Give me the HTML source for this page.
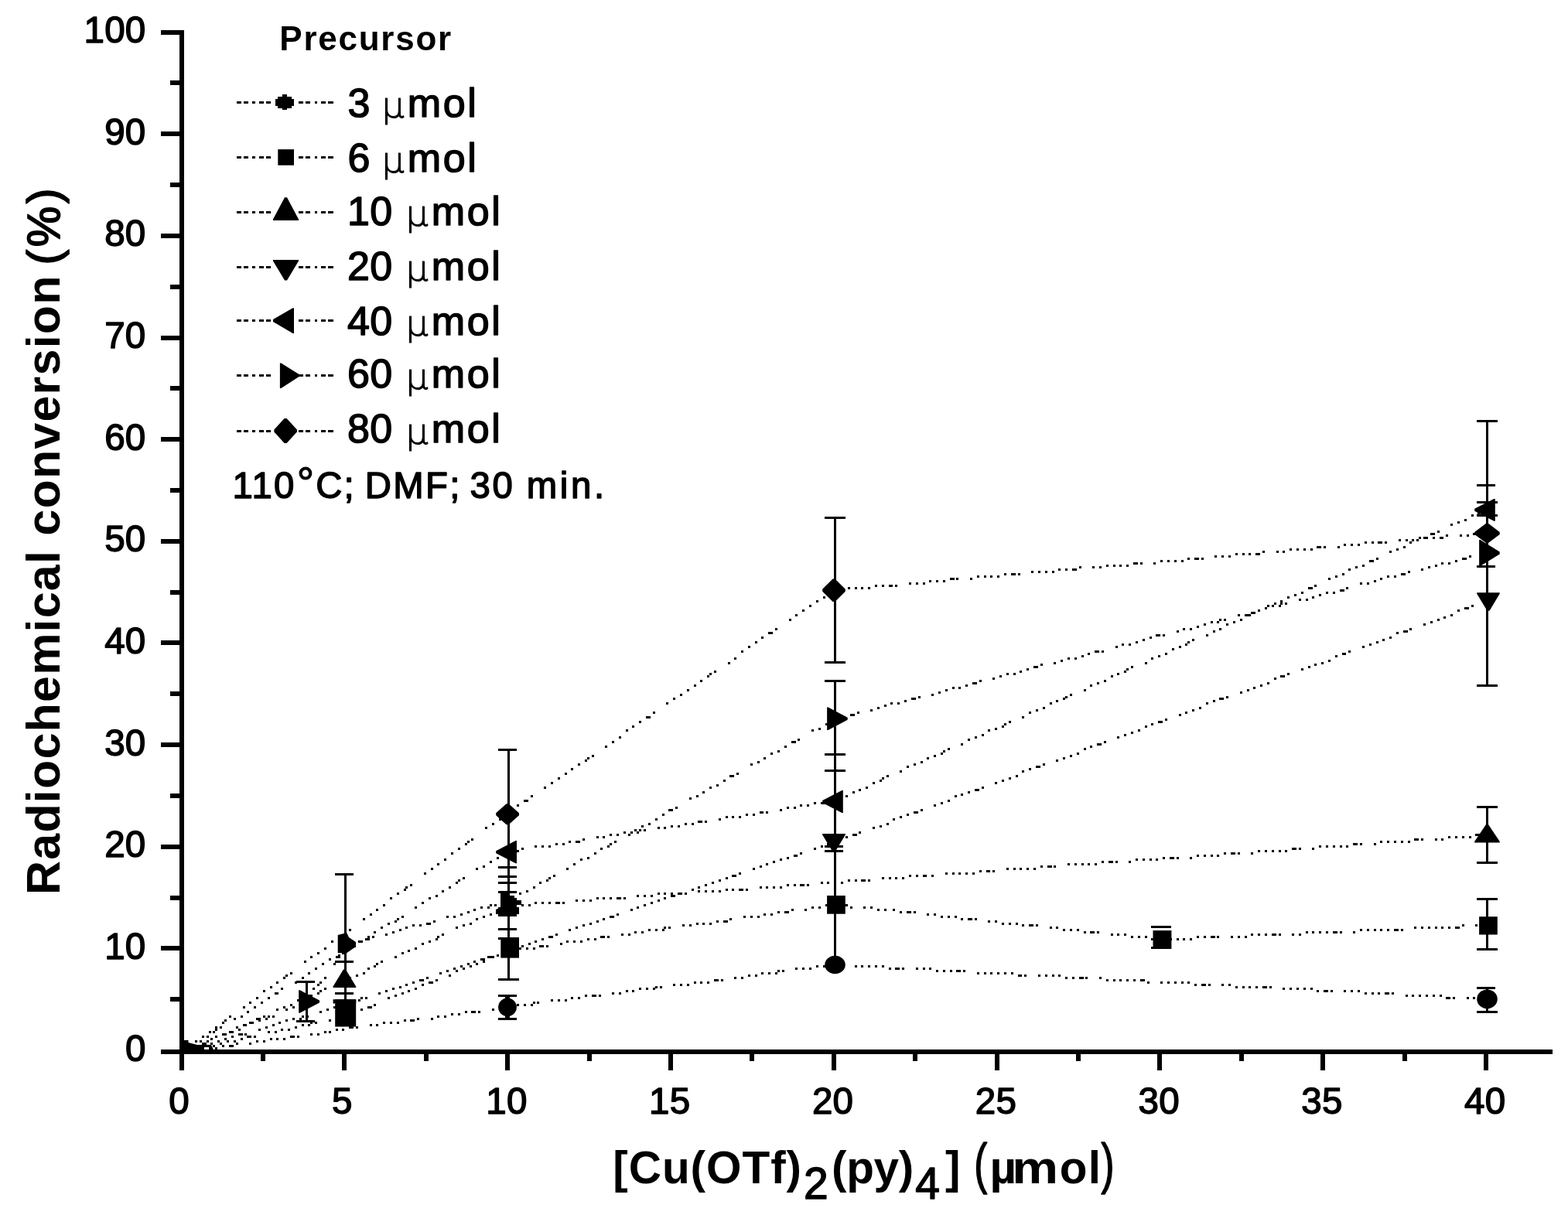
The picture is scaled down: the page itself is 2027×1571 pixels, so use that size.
<!DOCTYPE html>
<html lang="en">
<head>
<meta charset="utf-8">
<title>Radiochemical conversion vs [Cu(OTf)2(py)4]</title>
<style>
html, body { margin: 0; padding: 0; background: #fff; }
body { width: 2027px; height: 1571px; overflow: hidden; }
svg { display: block; }
text { fill: #000; stroke: #000; stroke-linejoin: round; }
.reg { font-family: "Liberation Sans", sans-serif; font-weight: 400; stroke-width: 1.5px; }
.bold { font-family: "Liberation Sans", sans-serif; font-weight: 700; stroke-width: 0; }
.sym { font-family: "DejaVu Sans", "Liberation Sans", sans-serif; font-weight: 200; stroke-width: 1.1px; }
.dl { stroke: #000; stroke-width: 3px; fill: none; }
</style>
</head>
<body>
<svg width="2027" height="1571" viewBox="0 0 2027 1571" role="img" aria-label="Radiochemical conversion versus copper complex amount">
<rect x="0" y="0" width="2027" height="1571" fill="#fff"/>
<g id="axes" fill="#000" shape-rendering="crispEdges">
<rect x="232.00" y="39.00" width="6.00" height="1345.00" />
<rect x="208.00" y="1357.00" width="1799.00" height="6.00" />
<rect x="208.00" y="1223.00" width="27.00" height="6.00" />
<rect x="208.00" y="1092.00" width="27.00" height="6.00" />
<rect x="208.00" y="960.00" width="27.00" height="6.00" />
<rect x="208.00" y="828.00" width="27.00" height="6.00" />
<rect x="208.00" y="697.00" width="27.00" height="6.00" />
<rect x="208.00" y="565.00" width="27.00" height="6.00" />
<rect x="208.00" y="434.00" width="27.00" height="6.00" />
<rect x="208.00" y="302.00" width="27.00" height="6.00" />
<rect x="208.00" y="170.00" width="27.00" height="6.00" />
<rect x="208.00" y="39.00" width="27.00" height="6.00" />
<rect x="220.00" y="1289.00" width="15.00" height="6.00" />
<rect x="220.00" y="1158.00" width="15.00" height="6.00" />
<rect x="220.00" y="1026.00" width="15.00" height="6.00" />
<rect x="220.00" y="894.00" width="15.00" height="6.00" />
<rect x="220.00" y="763.00" width="15.00" height="6.00" />
<rect x="220.00" y="631.00" width="15.00" height="6.00" />
<rect x="220.00" y="499.00" width="15.00" height="6.00" />
<rect x="220.00" y="368.00" width="15.00" height="6.00" />
<rect x="220.00" y="236.00" width="15.00" height="6.00" />
<rect x="220.00" y="104.00" width="15.00" height="6.00" />
<rect x="442.00" y="1360.00" width="6.00" height="24.00" />
<rect x="653.00" y="1360.00" width="6.00" height="24.00" />
<rect x="864.00" y="1360.00" width="6.00" height="24.00" />
<rect x="1075.00" y="1360.00" width="6.00" height="24.00" />
<rect x="1286.00" y="1360.00" width="6.00" height="24.00" />
<rect x="1496.00" y="1360.00" width="6.00" height="24.00" />
<rect x="1707.00" y="1360.00" width="6.00" height="24.00" />
<rect x="1918.00" y="1360.00" width="6.00" height="24.00" />
<rect x="337.00" y="1360.00" width="6.00" height="12.00" />
<rect x="548.00" y="1360.00" width="6.00" height="12.00" />
<rect x="759.00" y="1360.00" width="6.00" height="12.00" />
<rect x="969.00" y="1360.00" width="6.00" height="12.00" />
<rect x="1180.00" y="1360.00" width="6.00" height="12.00" />
<rect x="1391.00" y="1360.00" width="6.00" height="12.00" />
<rect x="1602.00" y="1360.00" width="6.00" height="12.00" />
<rect x="1813.00" y="1360.00" width="6.00" height="12.00" />
</g>
<g id="ticklabels" font-size="47.5" class="reg" letter-spacing="0.3">
<text x="188.6" y="1371.5" text-anchor="end">0</text>
<text x="188.6" y="1239.9" text-anchor="end">10</text>
<text x="188.6" y="1108.2" text-anchor="end">20</text>
<text x="188.6" y="976.6" text-anchor="end">30</text>
<text x="188.6" y="844.9" text-anchor="end">40</text>
<text x="188.6" y="713.3" text-anchor="end">50</text>
<text x="188.6" y="581.7" text-anchor="end">60</text>
<text x="188.6" y="450.0" text-anchor="end">70</text>
<text x="188.6" y="318.4" text-anchor="end">80</text>
<text x="188.6" y="186.7" text-anchor="end">90</text>
<text x="188.6" y="55.1" text-anchor="end">100</text>
<text x="231.7" y="1440.2" text-anchor="middle">0</text>
<text x="442.4" y="1440.2" text-anchor="middle">5</text>
<text x="655.0" y="1440.2" text-anchor="middle">10</text>
<text x="865.8" y="1440.2" text-anchor="middle">15</text>
<text x="1076.6" y="1440.2" text-anchor="middle">20</text>
<text x="1287.5" y="1440.2" text-anchor="middle">25</text>
<text x="1498.2" y="1440.2" text-anchor="middle">30</text>
<text x="1709.0" y="1440.2" text-anchor="middle">35</text>
<text x="1919.8" y="1440.2" text-anchor="middle">40</text>
</g>
<text id="ytitle" class="bold" font-size="61" letter-spacing="1.2" transform="translate(76.5,1157) rotate(-90)">Radiochemical conversion <tspan class="reg" style="stroke-width:1.8px" font-size="59" letter-spacing="3.6" x="814.5">(%)</tspan></text>
<text id="xtitle" class="bold" font-size="58.5" y="1529.6"><tspan x="792.3" letter-spacing="0.95">[Cu(OTf)</tspan><tspan class="reg" x="1039" y="1550" font-size="57">2</tspan><tspan x="1075" y="1529.6" letter-spacing="-0.3">(py)</tspan><tspan class="reg" x="1183.3" y="1550" font-size="57">4</tspan><tspan x="1222" y="1529.6">] </tspan><tspan class="reg" style="stroke-width:1.7px" font-size="73" x="1259.2" y="1528.5" textLength="17" lengthAdjust="spacingAndGlyphs">(</tspan><tspan x="1279.5" y="1529.6" font-size="60">µ</tspan><tspan x="1308.2" y="1529.6" textLength="59.8" lengthAdjust="spacingAndGlyphs">m</tspan><tspan x="1369.8" y="1529.6" letter-spacing="1.2">ol</tspan><tspan class="reg" style="stroke-width:1.7px" font-size="73" x="1423.5" y="1528.5" textLength="17" lengthAdjust="spacingAndGlyphs">)</tspan></text>
<text id="legtitle" class="bold" font-size="44" letter-spacing="1.75" x="361.3" y="65.3">Precursor</text>
<g id="legend" fill="#000">
<rect x="305.5" y="131" width="6.1" height="3" shape-rendering="crispEdges"/>
<rect x="314.5" y="131" width="6.1" height="3" shape-rendering="crispEdges"/>
<rect x="326.2" y="131" width="3.6" height="3" shape-rendering="crispEdges"/>
<rect x="335.4" y="131" width="5.9" height="3" shape-rendering="crispEdges"/>
<rect x="344.3" y="131" width="5.9" height="3" shape-rendering="crispEdges"/>
<rect x="386.0" y="131" width="5.9" height="3" shape-rendering="crispEdges"/>
<rect x="394.8" y="131" width="5.9" height="3" shape-rendering="crispEdges"/>
<rect x="406.5" y="131" width="3.0" height="3" shape-rendering="crispEdges"/>
<rect x="415.3" y="131" width="5.9" height="3" shape-rendering="crispEdges"/>
<rect x="424.2" y="131" width="6.6" height="3" shape-rendering="crispEdges"/>
<rect x="365.00" y="122.00" width="6.00" height="3.00" />
<rect x="359.00" y="125.00" width="18.00" height="3.00" />
<rect x="356.00" y="128.00" width="24.00" height="3.00" />
<rect x="356.00" y="131.00" width="24.00" height="3.00" />
<rect x="356.00" y="134.00" width="24.00" height="3.00" />
<rect x="359.00" y="137.00" width="18.00" height="3.00" />
<rect x="365.00" y="140.00" width="6.00" height="2.00" />
<text class="reg" font-size="52" y="150.6"><tspan x="449.5" letter-spacing="0.4">3 </tspan><tspan class="sym" font-size="46" x="493.4" dy="1.8">µ</tspan><tspan x="526.8" dy="-1.8" letter-spacing="2.55">mol</tspan></text>
<rect x="305.5" y="202" width="6.1" height="3" shape-rendering="crispEdges"/>
<rect x="314.5" y="202" width="6.1" height="3" shape-rendering="crispEdges"/>
<rect x="326.2" y="202" width="3.6" height="3" shape-rendering="crispEdges"/>
<rect x="335.4" y="202" width="5.9" height="3" shape-rendering="crispEdges"/>
<rect x="344.3" y="202" width="5.9" height="3" shape-rendering="crispEdges"/>
<rect x="386.0" y="202" width="5.9" height="3" shape-rendering="crispEdges"/>
<rect x="394.8" y="202" width="5.9" height="3" shape-rendering="crispEdges"/>
<rect x="406.5" y="202" width="3.0" height="3" shape-rendering="crispEdges"/>
<rect x="415.3" y="202" width="5.9" height="3" shape-rendering="crispEdges"/>
<rect x="424.2" y="202" width="6.6" height="3" shape-rendering="crispEdges"/>
<rect x="359.30" y="193.10" width="20.70" height="20.60" />
<text class="reg" font-size="52" y="221.6"><tspan x="449.5" letter-spacing="0.4">6 </tspan><tspan class="sym" font-size="46" x="493.4" dy="1.8">µ</tspan><tspan x="526.8" dy="-1.8" letter-spacing="2.55">mol</tspan></text>
<rect x="305.5" y="273" width="6.1" height="3" shape-rendering="crispEdges"/>
<rect x="314.5" y="273" width="6.1" height="3" shape-rendering="crispEdges"/>
<rect x="326.2" y="273" width="3.6" height="3" shape-rendering="crispEdges"/>
<rect x="335.4" y="273" width="5.9" height="3" shape-rendering="crispEdges"/>
<rect x="344.3" y="273" width="5.9" height="3" shape-rendering="crispEdges"/>
<rect x="386.0" y="273" width="5.9" height="3" shape-rendering="crispEdges"/>
<rect x="394.8" y="273" width="5.9" height="3" shape-rendering="crispEdges"/>
<rect x="406.5" y="273" width="3.0" height="3" shape-rendering="crispEdges"/>
<rect x="415.3" y="273" width="5.9" height="3" shape-rendering="crispEdges"/>
<rect x="424.2" y="273" width="6.6" height="3" shape-rendering="crispEdges"/>
<polygon points="353.0,284.9 386.0,284.9 386.0,283.4 371.0,255.3 368.0,255.3 353.0,283.4" />
<text class="reg" font-size="52" y="290.5"><tspan x="449.0" letter-spacing="0.4">10 </tspan><tspan class="sym" font-size="46" x="524.4" dy="1.8">µ</tspan><tspan x="557.8" dy="-1.8" letter-spacing="2.55">mol</tspan></text>
<rect x="305.5" y="344" width="6.1" height="3" shape-rendering="crispEdges"/>
<rect x="314.5" y="344" width="6.1" height="3" shape-rendering="crispEdges"/>
<rect x="326.2" y="344" width="3.6" height="3" shape-rendering="crispEdges"/>
<rect x="335.4" y="344" width="5.9" height="3" shape-rendering="crispEdges"/>
<rect x="344.3" y="344" width="5.9" height="3" shape-rendering="crispEdges"/>
<rect x="386.0" y="344" width="5.9" height="3" shape-rendering="crispEdges"/>
<rect x="394.8" y="344" width="5.9" height="3" shape-rendering="crispEdges"/>
<rect x="406.5" y="344" width="3.0" height="3" shape-rendering="crispEdges"/>
<rect x="415.3" y="344" width="5.9" height="3" shape-rendering="crispEdges"/>
<rect x="424.2" y="344" width="6.6" height="3" shape-rendering="crispEdges"/>
<polygon points="353.0,336.0 386.0,336.0 386.0,337.5 371.0,362.6 368.0,362.6 353.0,337.5" />
<text class="reg" font-size="52" y="361.5"><tspan x="449.0" letter-spacing="0.4">20 </tspan><tspan class="sym" font-size="46" x="524.4" dy="1.8">µ</tspan><tspan x="557.8" dy="-1.8" letter-spacing="2.55">mol</tspan></text>
<rect x="305.5" y="413" width="6.1" height="3" shape-rendering="crispEdges"/>
<rect x="314.5" y="413" width="6.1" height="3" shape-rendering="crispEdges"/>
<rect x="326.2" y="413" width="3.6" height="3" shape-rendering="crispEdges"/>
<rect x="335.4" y="413" width="5.9" height="3" shape-rendering="crispEdges"/>
<rect x="344.3" y="413" width="5.9" height="3" shape-rendering="crispEdges"/>
<rect x="386.0" y="413" width="5.9" height="3" shape-rendering="crispEdges"/>
<rect x="394.8" y="413" width="5.9" height="3" shape-rendering="crispEdges"/>
<rect x="406.5" y="413" width="3.0" height="3" shape-rendering="crispEdges"/>
<rect x="415.3" y="413" width="5.9" height="3" shape-rendering="crispEdges"/>
<rect x="424.2" y="413" width="6.6" height="3" shape-rendering="crispEdges"/>
<polygon points="380.0,398.3 380.0,430.9 378.5,430.9 353.0,416.1 353.0,413.1 378.5,398.3" />
<text class="reg" font-size="52" y="432.6"><tspan x="449.0" letter-spacing="0.4">40 </tspan><tspan class="sym" font-size="46" x="524.4" dy="1.8">µ</tspan><tspan x="557.8" dy="-1.8" letter-spacing="2.55">mol</tspan></text>
<rect x="305.5" y="484" width="6.1" height="3" shape-rendering="crispEdges"/>
<rect x="314.5" y="484" width="6.1" height="3" shape-rendering="crispEdges"/>
<rect x="326.2" y="484" width="3.6" height="3" shape-rendering="crispEdges"/>
<rect x="335.4" y="484" width="5.9" height="3" shape-rendering="crispEdges"/>
<rect x="344.3" y="484" width="5.9" height="3" shape-rendering="crispEdges"/>
<rect x="386.0" y="484" width="5.9" height="3" shape-rendering="crispEdges"/>
<rect x="394.8" y="484" width="5.9" height="3" shape-rendering="crispEdges"/>
<rect x="406.5" y="484" width="3.0" height="3" shape-rendering="crispEdges"/>
<rect x="415.3" y="484" width="5.9" height="3" shape-rendering="crispEdges"/>
<rect x="424.2" y="484" width="6.6" height="3" shape-rendering="crispEdges"/>
<polygon points="361.9,469.4 361.9,501.9 363.4,501.9 386.6,487.1 386.6,484.1 363.4,469.4" />
<text class="reg" font-size="52" y="501.2"><tspan x="449.0" letter-spacing="0.4">60 </tspan><tspan class="sym" font-size="46" x="524.4" dy="1.8">µ</tspan><tspan x="557.8" dy="-1.8" letter-spacing="2.55">mol</tspan></text>
<rect x="305.5" y="556" width="6.1" height="3" shape-rendering="crispEdges"/>
<rect x="314.5" y="556" width="6.1" height="3" shape-rendering="crispEdges"/>
<rect x="326.2" y="556" width="3.6" height="3" shape-rendering="crispEdges"/>
<rect x="335.4" y="556" width="5.9" height="3" shape-rendering="crispEdges"/>
<rect x="344.3" y="556" width="5.9" height="3" shape-rendering="crispEdges"/>
<rect x="386.0" y="556" width="5.9" height="3" shape-rendering="crispEdges"/>
<rect x="394.8" y="556" width="5.9" height="3" shape-rendering="crispEdges"/>
<rect x="406.5" y="556" width="3.0" height="3" shape-rendering="crispEdges"/>
<rect x="415.3" y="556" width="5.9" height="3" shape-rendering="crispEdges"/>
<rect x="424.2" y="556" width="6.6" height="3" shape-rendering="crispEdges"/>
<polygon points="367.6,541.0 370.6,541.0 383.9,555.5 383.9,558.5 370.6,573.1 367.6,573.1 354.4,558.5 354.4,555.5" />
<text class="reg" font-size="52" y="572.4"><tspan x="449.0" letter-spacing="0.4">80 </tspan><tspan class="sym" font-size="46" x="524.4" dy="1.8">µ</tspan><tspan x="557.8" dy="-1.8" letter-spacing="2.55">mol</tspan></text>
</g>
<text id="cond" class="reg" font-size="47.3" y="643.9"><tspan x="300.4" letter-spacing="2.2">110</tspan><tspan x="383.8" y="643.3" font-size="56" style="stroke-width:1.2px">°</tspan><tspan x="408.3" y="643.9" letter-spacing="2.1">C; </tspan><tspan x="471.7" letter-spacing="2.4">DMF; </tspan><tspan x="607.4" letter-spacing="2.7">30 </tspan><tspan x="680.8" letter-spacing="3.65">min.</tspan></text>
<g id="lines" fill="#000" shape-rendering="crispEdges">
<path d="M243 1354h3v3h-3zM252 1345h3v3h-3zM261 1339h3v3h-3zM270 1333h3v3h-3zM278 1327h3v3h-3zM287 1321h3v3h-3zM290 1318h3v3h-3zM296 1313h3v3h-3zM314 1301h3v3h-3zM322 1295h3v3h-3zM331 1289h3v3h-3zM340 1280h3v3h-3zM349 1275h3v3h-3zM357 1269h3v3h-3zM366 1263h3v3h-3zM369 1260h3v3h-3zM375 1257h3v3h-3zM393 1242h3v3h-3zM401 1236h3v3h-3zM410 1231h3v3h-3zM419 1225h3v3h-3zM428 1216h3v3h-3zM437 1210h3v3h-3zM445 1204h3v3h-3zM445 1204h3v3h-3zM451 1201h3v3h-3zM469 1187h3v3h-3zM478 1181h3v3h-3zM486 1175h3v3h-3zM495 1169h3v3h-3zM504 1160h3v3h-3zM513 1154h3v3h-3zM522 1149h3v3h-3zM524 1146h3v3h-3zM530 1143h3v3h-3zM548 1128h3v3h-3zM557 1122h3v3h-3zM565 1116h3v3h-3zM574 1110h3v3h-3zM583 1102h3v3h-3zM592 1096h3v3h-3zM601 1090h3v3h-3zM604 1087h3v3h-3zM609 1084h3v3h-3zM627 1069h3v3h-3zM636 1064h3v3h-3zM645 1058h3v3h-3zM653 1052h3v3h-3zM659 1046h3v3h-3zM668 1040h3v3h-3zM677 1034h3v3h-3zM680 1034h3v3h-3zM686 1028h3v3h-3zM703 1017h3v3h-3zM712 1011h3v3h-3zM721 1005h3v3h-3zM730 999h3v3h-3zM738 993h3v3h-3zM747 987h3v3h-3zM756 982h3v3h-3zM759 979h3v3h-3zM765 976h3v3h-3zM782 964h3v3h-3zM791 958h3v3h-3zM800 952h3v3h-3zM809 943h3v3h-3zM817 938h3v3h-3zM826 932h3v3h-3zM835 926h3v3h-3zM838 926h3v3h-3zM844 920h3v3h-3zM861 908h3v3h-3zM870 902h3v3h-3zM879 897h3v3h-3zM888 891h3v3h-3zM897 885h3v3h-3zM905 879h3v3h-3zM914 873h3v3h-3zM917 870h3v3h-3zM923 867h3v3h-3zM941 856h3v3h-3zM949 850h3v3h-3zM958 841h3v3h-3zM967 835h3v3h-3zM976 829h3v3h-3zM984 823h3v3h-3zM993 817h3v3h-3zM996 817h3v3h-3zM1002 812h3v3h-3zM1020 800h3v3h-3zM1028 794h3v3h-3zM1037 788h3v3h-3zM1046 782h3v3h-3zM1055 776h3v3h-3zM1064 771h3v3h-3zM1072 765h3v3h-3zM1075 762h3v3h-3zM1078 762h3v3h-3zM1096 759h3v3h-3zM1105 759h3v3h-3zM1113 759h3v3h-3zM1122 759h3v3h-3zM1131 756h3v3h-3zM1140 756h3v3h-3zM1149 756h3v3h-3zM1151 756h3v3h-3zM1157 756h3v3h-3zM1175 753h3v3h-3zM1184 753h3v3h-3zM1193 753h3v3h-3zM1201 750h3v3h-3zM1210 750h3v3h-3zM1219 750h3v3h-3zM1228 747h3v3h-3zM1231 747h3v3h-3zM1236 747h3v3h-3zM1254 747h3v3h-3zM1263 744h3v3h-3zM1272 744h3v3h-3zM1280 744h3v3h-3zM1289 744h3v3h-3zM1298 741h3v3h-3zM1307 741h3v3h-3zM1310 741h3v3h-3zM1316 741h3v3h-3zM1333 738h3v3h-3zM1342 738h3v3h-3zM1351 738h3v3h-3zM1360 738h3v3h-3zM1368 735h3v3h-3zM1377 735h3v3h-3zM1386 735h3v3h-3zM1389 735h3v3h-3zM1395 732h3v3h-3zM1412 732h3v3h-3zM1421 732h3v3h-3zM1430 730h3v3h-3zM1439 730h3v3h-3zM1447 730h3v3h-3zM1456 730h3v3h-3zM1465 727h3v3h-3zM1468 727h3v3h-3zM1474 727h3v3h-3zM1491 727h3v3h-3zM1500 724h3v3h-3zM1509 724h3v3h-3zM1518 724h3v3h-3zM1527 724h3v3h-3zM1535 721h3v3h-3zM1544 721h3v3h-3zM1547 721h3v3h-3zM1553 721h3v3h-3zM1570 718h3v3h-3zM1579 718h3v3h-3zM1588 718h3v3h-3zM1597 715h3v3h-3zM1606 715h3v3h-3zM1614 715h3v3h-3zM1623 715h3v3h-3zM1626 715h3v3h-3zM1632 712h3v3h-3zM1650 712h3v3h-3zM1658 712h3v3h-3zM1667 709h3v3h-3zM1676 709h3v3h-3zM1685 709h3v3h-3zM1694 709h3v3h-3zM1702 706h3v3h-3zM1705 706h3v3h-3zM1711 706h3v3h-3zM1729 706h3v3h-3zM1737 703h3v3h-3zM1746 703h3v3h-3zM1755 703h3v3h-3zM1764 700h3v3h-3zM1773 700h3v3h-3zM1781 700h3v3h-3zM1784 700h3v3h-3zM1790 700h3v3h-3zM1808 697h3v3h-3zM1817 697h3v3h-3zM1825 697h3v3h-3zM1834 694h3v3h-3zM1843 694h3v3h-3zM1852 694h3v3h-3zM1861 694h3v3h-3zM1863 694h3v3h-3zM1869 691h3v3h-3zM1887 691h3v3h-3zM1896 691h3v3h-3zM1904 689h3v3h-3zM1913 689h3v3h-3z"/>
<path d="M240 1354h3v3h-3zM249 1351h3v3h-3zM258 1345h3v3h-3zM267 1339h3v3h-3zM275 1333h3v3h-3zM278 1330h3v3h-3zM284 1327h3v3h-3zM302 1316h3v3h-3zM311 1313h3v3h-3zM319 1307h3v3h-3zM328 1301h3v3h-3zM337 1295h3v3h-3zM346 1289h3v3h-3zM355 1283h3v3h-3zM357 1283h3v3h-3zM363 1277h3v3h-3zM381 1269h3v3h-3zM390 1263h3v3h-3zM398 1257h3v3h-3zM407 1251h3v3h-3zM416 1245h3v3h-3zM425 1239h3v3h-3zM434 1236h3v3h-3zM437 1234h3v3h-3zM442 1231h3v3h-3zM457 1222h3v3h-3zM466 1216h3v3h-3zM475 1210h3v3h-3zM483 1204h3v3h-3zM492 1198h3v3h-3zM501 1193h3v3h-3zM510 1190h3v3h-3zM513 1187h3v3h-3zM519 1184h3v3h-3zM536 1172h3v3h-3zM545 1166h3v3h-3zM554 1160h3v3h-3zM563 1157h3v3h-3zM571 1151h3v3h-3zM580 1146h3v3h-3zM589 1140h3v3h-3zM592 1137h3v3h-3zM598 1134h3v3h-3zM615 1122h3v3h-3zM624 1119h3v3h-3zM633 1113h3v3h-3zM642 1108h3v3h-3zM650 1102h3v3h-3zM656 1099h3v3h-3zM665 1099h3v3h-3zM668 1099h3v3h-3zM674 1096h3v3h-3zM691 1093h3v3h-3zM700 1093h3v3h-3zM709 1093h3v3h-3zM718 1090h3v3h-3zM727 1090h3v3h-3zM735 1087h3v3h-3zM744 1087h3v3h-3zM747 1087h3v3h-3zM753 1084h3v3h-3zM771 1081h3v3h-3zM779 1081h3v3h-3zM788 1078h3v3h-3zM797 1078h3v3h-3zM806 1075h3v3h-3zM815 1075h3v3h-3zM823 1075h3v3h-3zM826 1072h3v3h-3zM832 1072h3v3h-3zM850 1069h3v3h-3zM858 1069h3v3h-3zM867 1067h3v3h-3zM876 1067h3v3h-3zM885 1064h3v3h-3zM894 1064h3v3h-3zM902 1061h3v3h-3zM905 1061h3v3h-3zM911 1061h3v3h-3zM929 1058h3v3h-3zM938 1055h3v3h-3zM946 1055h3v3h-3zM955 1055h3v3h-3zM964 1052h3v3h-3zM973 1052h3v3h-3zM982 1049h3v3h-3zM984 1049h3v3h-3zM990 1049h3v3h-3zM1008 1046h3v3h-3zM1017 1043h3v3h-3zM1026 1043h3v3h-3zM1034 1040h3v3h-3zM1043 1040h3v3h-3zM1052 1037h3v3h-3zM1061 1037h3v3h-3zM1064 1037h3v3h-3zM1069 1037h3v3h-3zM1084 1031h3v3h-3zM1093 1028h3v3h-3zM1102 1023h3v3h-3zM1110 1020h3v3h-3zM1119 1017h3v3h-3zM1128 1011h3v3h-3zM1137 1008h3v3h-3zM1140 1005h3v3h-3zM1146 1002h3v3h-3zM1163 996h3v3h-3zM1172 990h3v3h-3zM1181 987h3v3h-3zM1190 984h3v3h-3zM1198 979h3v3h-3zM1207 976h3v3h-3zM1216 973h3v3h-3zM1219 970h3v3h-3zM1225 967h3v3h-3zM1242 961h3v3h-3zM1251 955h3v3h-3zM1260 952h3v3h-3zM1269 949h3v3h-3zM1277 943h3v3h-3zM1286 941h3v3h-3zM1295 938h3v3h-3zM1298 935h3v3h-3zM1304 932h3v3h-3zM1321 926h3v3h-3zM1330 920h3v3h-3zM1339 917h3v3h-3zM1348 914h3v3h-3zM1357 908h3v3h-3zM1365 905h3v3h-3zM1374 902h3v3h-3zM1377 900h3v3h-3zM1383 897h3v3h-3zM1401 891h3v3h-3zM1409 885h3v3h-3zM1418 882h3v3h-3zM1427 879h3v3h-3zM1436 873h3v3h-3zM1444 870h3v3h-3zM1453 867h3v3h-3zM1456 864h3v3h-3zM1462 861h3v3h-3zM1480 856h3v3h-3zM1488 850h3v3h-3zM1497 847h3v3h-3zM1506 844h3v3h-3zM1515 838h3v3h-3zM1524 835h3v3h-3zM1532 832h3v3h-3zM1535 829h3v3h-3zM1541 826h3v3h-3zM1559 820h3v3h-3zM1568 815h3v3h-3zM1576 812h3v3h-3zM1585 806h3v3h-3zM1594 803h3v3h-3zM1603 800h3v3h-3zM1612 794h3v3h-3zM1614 794h3v3h-3zM1620 791h3v3h-3zM1638 782h3v3h-3zM1647 779h3v3h-3zM1655 776h3v3h-3zM1664 771h3v3h-3zM1673 768h3v3h-3zM1682 765h3v3h-3zM1691 759h3v3h-3zM1694 759h3v3h-3zM1699 756h3v3h-3zM1717 747h3v3h-3zM1726 744h3v3h-3zM1735 741h3v3h-3zM1743 735h3v3h-3zM1752 732h3v3h-3zM1761 730h3v3h-3zM1770 724h3v3h-3zM1773 724h3v3h-3zM1779 721h3v3h-3zM1796 712h3v3h-3zM1805 709h3v3h-3zM1814 706h3v3h-3zM1822 700h3v3h-3zM1831 697h3v3h-3zM1840 694h3v3h-3zM1849 689h3v3h-3zM1852 689h3v3h-3zM1858 686h3v3h-3zM1875 677h3v3h-3zM1884 674h3v3h-3zM1893 671h3v3h-3zM1902 665h3v3h-3zM1910 662h3v3h-3zM1919 659h3v3h-3z"/>
<path d="M246 1354h3v3h-3zM255 1351h3v3h-3zM264 1348h3v3h-3zM267 1345h3v3h-3zM272 1342h3v3h-3zM290 1336h3v3h-3zM299 1333h3v3h-3zM308 1330h3v3h-3zM316 1324h3v3h-3zM325 1321h3v3h-3zM334 1318h3v3h-3zM343 1316h3v3h-3zM346 1313h3v3h-3zM352 1313h3v3h-3zM369 1304h3v3h-3zM378 1301h3v3h-3zM387 1298h3v3h-3zM396 1292h3v3h-3zM398 1286h3v3h-3zM404 1277h3v3h-3zM410 1272h3v3h-3zM413 1269h3v3h-3zM419 1263h3v3h-3zM431 1245h3v3h-3zM437 1236h3v3h-3zM442 1228h3v3h-3zM445 1222h3v3h-3zM454 1219h3v3h-3zM463 1216h3v3h-3zM472 1213h3v3h-3zM475 1213h3v3h-3zM481 1210h3v3h-3zM498 1207h3v3h-3zM507 1204h3v3h-3zM516 1201h3v3h-3zM524 1198h3v3h-3zM533 1195h3v3h-3zM542 1195h3v3h-3zM551 1193h3v3h-3zM554 1193h3v3h-3zM560 1190h3v3h-3zM577 1184h3v3h-3zM586 1184h3v3h-3zM595 1181h3v3h-3zM604 1178h3v3h-3zM612 1175h3v3h-3zM621 1172h3v3h-3zM630 1172h3v3h-3zM633 1169h3v3h-3zM639 1169h3v3h-3zM656 1163h3v3h-3zM662 1160h3v3h-3zM671 1154h3v3h-3zM680 1151h3v3h-3zM689 1146h3v3h-3zM697 1140h3v3h-3zM706 1137h3v3h-3zM709 1134h3v3h-3zM715 1131h3v3h-3zM732 1122h3v3h-3zM741 1116h3v3h-3zM750 1110h3v3h-3zM759 1108h3v3h-3zM768 1102h3v3h-3zM776 1096h3v3h-3zM785 1093h3v3h-3zM788 1090h3v3h-3zM794 1087h3v3h-3zM812 1078h3v3h-3zM820 1072h3v3h-3zM829 1067h3v3h-3zM838 1064h3v3h-3zM847 1058h3v3h-3zM856 1052h3v3h-3zM864 1046h3v3h-3zM867 1046h3v3h-3zM873 1043h3v3h-3zM891 1031h3v3h-3zM900 1028h3v3h-3zM908 1023h3v3h-3zM917 1017h3v3h-3zM926 1014h3v3h-3zM935 1008h3v3h-3zM943 1002h3v3h-3zM946 1002h3v3h-3zM952 999h3v3h-3zM970 987h3v3h-3zM979 984h3v3h-3zM987 979h3v3h-3zM996 973h3v3h-3zM1005 970h3v3h-3zM1014 964h3v3h-3zM1023 958h3v3h-3zM1026 958h3v3h-3zM1031 955h3v3h-3zM1049 943h3v3h-3zM1058 941h3v3h-3zM1067 935h3v3h-3zM1075 929h3v3h-3zM1081 926h3v3h-3zM1090 926h3v3h-3zM1099 923h3v3h-3zM1102 923h3v3h-3zM1108 920h3v3h-3zM1125 917h3v3h-3zM1134 914h3v3h-3zM1143 911h3v3h-3zM1151 908h3v3h-3zM1160 908h3v3h-3zM1169 905h3v3h-3zM1178 902h3v3h-3zM1181 902h3v3h-3zM1187 900h3v3h-3zM1204 897h3v3h-3zM1213 894h3v3h-3zM1222 891h3v3h-3zM1231 888h3v3h-3zM1239 888h3v3h-3zM1248 885h3v3h-3zM1257 882h3v3h-3zM1260 882h3v3h-3zM1266 879h3v3h-3zM1283 876h3v3h-3zM1292 873h3v3h-3zM1301 870h3v3h-3zM1310 870h3v3h-3zM1318 867h3v3h-3zM1327 864h3v3h-3zM1336 861h3v3h-3zM1339 861h3v3h-3zM1345 858h3v3h-3zM1362 856h3v3h-3zM1371 853h3v3h-3zM1380 850h3v3h-3zM1389 850h3v3h-3zM1398 847h3v3h-3zM1406 844h3v3h-3zM1415 841h3v3h-3zM1418 841h3v3h-3zM1424 841h3v3h-3zM1442 835h3v3h-3zM1450 832h3v3h-3zM1459 832h3v3h-3zM1468 829h3v3h-3zM1477 826h3v3h-3zM1486 823h3v3h-3zM1494 820h3v3h-3zM1497 820h3v3h-3zM1503 820h3v3h-3zM1521 815h3v3h-3zM1529 812h3v3h-3zM1538 812h3v3h-3zM1547 809h3v3h-3zM1556 806h3v3h-3zM1565 803h3v3h-3zM1573 803h3v3h-3zM1576 800h3v3h-3zM1582 800h3v3h-3zM1600 794h3v3h-3zM1609 794h3v3h-3zM1617 791h3v3h-3zM1626 788h3v3h-3zM1635 785h3v3h-3zM1644 782h3v3h-3zM1653 782h3v3h-3zM1655 779h3v3h-3zM1661 779h3v3h-3zM1679 774h3v3h-3zM1688 774h3v3h-3zM1696 771h3v3h-3zM1705 768h3v3h-3zM1714 765h3v3h-3zM1723 765h3v3h-3zM1732 762h3v3h-3zM1735 762h3v3h-3zM1740 759h3v3h-3zM1758 753h3v3h-3zM1767 753h3v3h-3zM1776 750h3v3h-3zM1784 747h3v3h-3zM1793 744h3v3h-3zM1802 744h3v3h-3zM1811 741h3v3h-3zM1814 741h3v3h-3zM1820 738h3v3h-3zM1837 735h3v3h-3zM1846 732h3v3h-3zM1855 730h3v3h-3zM1863 727h3v3h-3zM1872 727h3v3h-3zM1881 724h3v3h-3zM1890 721h3v3h-3zM1893 721h3v3h-3zM1899 718h3v3h-3zM1916 715h3v3h-3z"/>
<path d="M243 1354h3v3h-3zM252 1351h3v3h-3zM255 1351h3v3h-3zM261 1348h3v3h-3zM278 1339h3v3h-3zM287 1336h3v3h-3zM296 1333h3v3h-3zM305 1327h3v3h-3zM314 1324h3v3h-3zM322 1321h3v3h-3zM331 1316h3v3h-3zM334 1316h3v3h-3zM340 1313h3v3h-3zM357 1304h3v3h-3zM366 1301h3v3h-3zM375 1298h3v3h-3zM384 1292h3v3h-3zM393 1289h3v3h-3zM401 1286h3v3h-3zM410 1283h3v3h-3zM413 1280h3v3h-3zM419 1277h3v3h-3zM437 1272h3v3h-3zM445 1266h3v3h-3zM451 1263h3v3h-3zM460 1260h3v3h-3zM469 1257h3v3h-3zM475 1251h3v3h-3zM483 1248h3v3h-3zM486 1245h3v3h-3zM492 1242h3v3h-3zM510 1236h3v3h-3zM519 1231h3v3h-3zM527 1228h3v3h-3zM536 1225h3v3h-3zM545 1219h3v3h-3zM554 1216h3v3h-3zM563 1213h3v3h-3zM565 1210h3v3h-3zM571 1207h3v3h-3zM589 1198h3v3h-3zM598 1195h3v3h-3zM607 1193h3v3h-3zM615 1187h3v3h-3zM624 1184h3v3h-3zM633 1181h3v3h-3zM642 1175h3v3h-3zM645 1175h3v3h-3zM650 1172h3v3h-3zM665 1169h3v3h-3zM674 1169h3v3h-3zM683 1169h3v3h-3zM691 1166h3v3h-3zM700 1166h3v3h-3zM709 1166h3v3h-3zM718 1166h3v3h-3zM721 1166h3v3h-3zM727 1166h3v3h-3zM744 1163h3v3h-3zM753 1163h3v3h-3zM762 1163h3v3h-3zM771 1160h3v3h-3zM779 1160h3v3h-3zM788 1160h3v3h-3zM797 1160h3v3h-3zM800 1160h3v3h-3zM806 1160h3v3h-3zM823 1157h3v3h-3zM832 1157h3v3h-3zM841 1157h3v3h-3zM850 1154h3v3h-3zM858 1154h3v3h-3zM867 1154h3v3h-3zM876 1154h3v3h-3zM879 1154h3v3h-3zM885 1154h3v3h-3zM902 1151h3v3h-3zM911 1151h3v3h-3zM920 1151h3v3h-3zM929 1151h3v3h-3zM938 1149h3v3h-3zM946 1149h3v3h-3zM955 1149h3v3h-3zM958 1149h3v3h-3zM964 1149h3v3h-3zM982 1146h3v3h-3zM990 1146h3v3h-3zM999 1146h3v3h-3zM1008 1146h3v3h-3zM1017 1143h3v3h-3zM1026 1143h3v3h-3zM1034 1143h3v3h-3zM1037 1143h3v3h-3zM1043 1143h3v3h-3zM1061 1140h3v3h-3zM1069 1140h3v3h-3zM1078 1140h3v3h-3zM1087 1140h3v3h-3zM1096 1137h3v3h-3zM1105 1137h3v3h-3zM1113 1137h3v3h-3zM1116 1137h3v3h-3zM1122 1137h3v3h-3zM1140 1134h3v3h-3zM1149 1134h3v3h-3zM1157 1134h3v3h-3zM1166 1134h3v3h-3zM1175 1131h3v3h-3zM1184 1131h3v3h-3zM1193 1131h3v3h-3zM1195 1131h3v3h-3zM1204 1131h3v3h-3zM1222 1128h3v3h-3zM1231 1128h3v3h-3zM1239 1128h3v3h-3zM1248 1128h3v3h-3zM1257 1128h3v3h-3zM1266 1125h3v3h-3zM1275 1125h3v3h-3zM1277 1125h3v3h-3zM1283 1125h3v3h-3zM1301 1122h3v3h-3zM1310 1122h3v3h-3zM1318 1122h3v3h-3zM1327 1122h3v3h-3zM1336 1122h3v3h-3zM1345 1119h3v3h-3zM1354 1119h3v3h-3zM1357 1119h3v3h-3zM1362 1119h3v3h-3zM1380 1116h3v3h-3zM1389 1116h3v3h-3zM1398 1116h3v3h-3zM1406 1116h3v3h-3zM1415 1116h3v3h-3zM1424 1113h3v3h-3zM1433 1113h3v3h-3zM1436 1113h3v3h-3zM1442 1113h3v3h-3zM1459 1113h3v3h-3zM1468 1110h3v3h-3zM1477 1110h3v3h-3zM1486 1110h3v3h-3zM1494 1110h3v3h-3zM1503 1108h3v3h-3zM1512 1108h3v3h-3zM1515 1108h3v3h-3zM1521 1108h3v3h-3zM1538 1108h3v3h-3zM1547 1105h3v3h-3zM1556 1105h3v3h-3zM1565 1105h3v3h-3zM1573 1105h3v3h-3zM1582 1102h3v3h-3zM1591 1102h3v3h-3zM1594 1102h3v3h-3zM1600 1102h3v3h-3zM1617 1102h3v3h-3zM1626 1099h3v3h-3zM1635 1099h3v3h-3zM1644 1099h3v3h-3zM1653 1099h3v3h-3zM1661 1099h3v3h-3zM1670 1096h3v3h-3zM1673 1096h3v3h-3zM1679 1096h3v3h-3zM1696 1096h3v3h-3zM1705 1093h3v3h-3zM1714 1093h3v3h-3zM1723 1093h3v3h-3zM1732 1093h3v3h-3zM1740 1093h3v3h-3zM1749 1090h3v3h-3zM1752 1090h3v3h-3zM1758 1090h3v3h-3zM1776 1090h3v3h-3zM1784 1087h3v3h-3zM1793 1087h3v3h-3zM1802 1087h3v3h-3zM1811 1087h3v3h-3zM1820 1087h3v3h-3zM1828 1084h3v3h-3zM1831 1084h3v3h-3zM1837 1084h3v3h-3zM1855 1084h3v3h-3zM1863 1084h3v3h-3zM1872 1081h3v3h-3zM1881 1081h3v3h-3zM1890 1081h3v3h-3zM1899 1081h3v3h-3zM1907 1078h3v3h-3zM1910 1078h3v3h-3zM1916 1078h3v3h-3z"/>
<path d="M267 1351h3v3h-3zM275 1351h3v3h-3zM284 1348h3v3h-3zM293 1345h3v3h-3zM302 1345h3v3h-3zM311 1342h3v3h-3zM319 1339h3v3h-3zM322 1339h3v3h-3zM328 1339h3v3h-3zM346 1333h3v3h-3zM355 1333h3v3h-3zM363 1330h3v3h-3zM372 1330h3v3h-3zM381 1327h3v3h-3zM390 1324h3v3h-3zM398 1324h3v3h-3zM401 1321h3v3h-3zM407 1321h3v3h-3zM425 1318h3v3h-3zM434 1316h3v3h-3zM442 1313h3v3h-3zM448 1313h3v3h-3zM457 1307h3v3h-3zM466 1304h3v3h-3zM475 1301h3v3h-3zM478 1301h3v3h-3zM483 1298h3v3h-3zM501 1289h3v3h-3zM510 1286h3v3h-3zM519 1283h3v3h-3zM527 1280h3v3h-3zM536 1277h3v3h-3zM545 1272h3v3h-3zM554 1269h3v3h-3zM557 1269h3v3h-3zM563 1266h3v3h-3zM580 1260h3v3h-3zM589 1254h3v3h-3zM598 1251h3v3h-3zM607 1248h3v3h-3zM615 1245h3v3h-3zM624 1242h3v3h-3zM633 1236h3v3h-3zM636 1236h3v3h-3zM642 1234h3v3h-3zM656 1228h3v3h-3zM665 1225h3v3h-3zM674 1222h3v3h-3zM683 1219h3v3h-3zM691 1216h3v3h-3zM700 1213h3v3h-3zM709 1210h3v3h-3zM712 1210h3v3h-3zM718 1207h3v3h-3zM735 1201h3v3h-3zM744 1198h3v3h-3zM753 1195h3v3h-3zM762 1193h3v3h-3zM771 1190h3v3h-3zM779 1187h3v3h-3zM788 1184h3v3h-3zM791 1184h3v3h-3zM797 1181h3v3h-3zM815 1175h3v3h-3zM823 1172h3v3h-3zM832 1169h3v3h-3zM841 1166h3v3h-3zM850 1163h3v3h-3zM858 1160h3v3h-3zM867 1157h3v3h-3zM870 1157h3v3h-3zM876 1154h3v3h-3zM894 1149h3v3h-3zM902 1146h3v3h-3zM911 1143h3v3h-3zM920 1140h3v3h-3zM929 1137h3v3h-3zM938 1134h3v3h-3zM946 1131h3v3h-3zM949 1131h3v3h-3zM955 1128h3v3h-3zM973 1122h3v3h-3zM982 1119h3v3h-3zM990 1116h3v3h-3zM999 1113h3v3h-3zM1008 1110h3v3h-3zM1017 1108h3v3h-3zM1026 1105h3v3h-3zM1028 1105h3v3h-3zM1034 1102h3v3h-3zM1052 1096h3v3h-3zM1061 1093h3v3h-3zM1069 1090h3v3h-3zM1075 1087h3v3h-3zM1084 1084h3v3h-3zM1093 1081h3v3h-3zM1102 1078h3v3h-3zM1105 1078h3v3h-3zM1110 1075h3v3h-3zM1128 1069h3v3h-3zM1137 1067h3v3h-3zM1146 1064h3v3h-3zM1154 1058h3v3h-3zM1163 1055h3v3h-3zM1172 1052h3v3h-3zM1181 1049h3v3h-3zM1184 1049h3v3h-3zM1190 1046h3v3h-3zM1207 1040h3v3h-3zM1216 1037h3v3h-3zM1225 1034h3v3h-3zM1234 1028h3v3h-3zM1242 1026h3v3h-3zM1251 1023h3v3h-3zM1260 1020h3v3h-3zM1263 1020h3v3h-3zM1269 1017h3v3h-3zM1286 1011h3v3h-3zM1295 1008h3v3h-3zM1304 1005h3v3h-3zM1313 1002h3v3h-3zM1321 996h3v3h-3zM1330 993h3v3h-3zM1339 990h3v3h-3zM1342 990h3v3h-3zM1348 987h3v3h-3zM1365 982h3v3h-3zM1374 979h3v3h-3zM1383 976h3v3h-3zM1392 973h3v3h-3zM1401 967h3v3h-3zM1409 964h3v3h-3zM1418 961h3v3h-3zM1421 961h3v3h-3zM1427 958h3v3h-3zM1444 952h3v3h-3zM1453 949h3v3h-3zM1462 946h3v3h-3zM1471 943h3v3h-3zM1480 938h3v3h-3zM1488 935h3v3h-3zM1497 932h3v3h-3zM1500 932h3v3h-3zM1506 929h3v3h-3zM1524 923h3v3h-3zM1532 920h3v3h-3zM1541 917h3v3h-3zM1550 914h3v3h-3zM1559 908h3v3h-3zM1568 905h3v3h-3zM1576 902h3v3h-3zM1579 902h3v3h-3zM1585 900h3v3h-3zM1603 894h3v3h-3zM1612 891h3v3h-3zM1620 888h3v3h-3zM1629 885h3v3h-3zM1638 882h3v3h-3zM1647 876h3v3h-3zM1655 873h3v3h-3zM1658 873h3v3h-3zM1664 870h3v3h-3zM1682 864h3v3h-3zM1691 861h3v3h-3zM1699 858h3v3h-3zM1708 856h3v3h-3zM1717 853h3v3h-3zM1726 847h3v3h-3zM1735 844h3v3h-3zM1737 844h3v3h-3zM1743 841h3v3h-3zM1761 835h3v3h-3zM1770 832h3v3h-3zM1779 829h3v3h-3zM1787 826h3v3h-3zM1796 823h3v3h-3zM1805 817h3v3h-3zM1814 815h3v3h-3zM1817 815h3v3h-3zM1822 812h3v3h-3zM1840 806h3v3h-3zM1849 803h3v3h-3zM1858 800h3v3h-3zM1866 797h3v3h-3zM1875 794h3v3h-3zM1884 788h3v3h-3zM1893 785h3v3h-3zM1896 785h3v3h-3zM1902 782h3v3h-3zM1919 776h3v3h-3z"/>
<path d="M255 1354h3v3h-3zM264 1351h3v3h-3zM272 1348h3v3h-3zM281 1345h3v3h-3zM290 1342h3v3h-3zM299 1339h3v3h-3zM308 1336h3v3h-3zM311 1336h3v3h-3zM316 1336h3v3h-3zM334 1330h3v3h-3zM343 1327h3v3h-3zM352 1324h3v3h-3zM360 1321h3v3h-3zM369 1318h3v3h-3zM378 1316h3v3h-3zM387 1316h3v3h-3zM390 1313h3v3h-3zM396 1313h3v3h-3zM413 1307h3v3h-3zM422 1304h3v3h-3zM431 1301h3v3h-3zM440 1298h3v3h-3zM445 1298h3v3h-3zM454 1295h3v3h-3zM463 1292h3v3h-3zM466 1289h3v3h-3zM472 1289h3v3h-3zM489 1283h3v3h-3zM498 1280h3v3h-3zM507 1277h3v3h-3zM516 1275h3v3h-3zM524 1272h3v3h-3zM533 1269h3v3h-3zM542 1266h3v3h-3zM545 1266h3v3h-3zM551 1263h3v3h-3zM568 1257h3v3h-3zM577 1254h3v3h-3zM586 1251h3v3h-3zM595 1248h3v3h-3zM604 1245h3v3h-3zM612 1242h3v3h-3zM621 1239h3v3h-3zM624 1239h3v3h-3zM630 1236h3v3h-3zM648 1231h3v3h-3zM656 1228h3v3h-3zM662 1228h3v3h-3zM671 1225h3v3h-3zM680 1225h3v3h-3zM689 1225h3v3h-3zM697 1222h3v3h-3zM700 1222h3v3h-3zM706 1222h3v3h-3zM724 1219h3v3h-3zM732 1216h3v3h-3zM741 1216h3v3h-3zM750 1216h3v3h-3zM759 1213h3v3h-3zM768 1213h3v3h-3zM776 1210h3v3h-3zM779 1210h3v3h-3zM785 1210h3v3h-3zM803 1207h3v3h-3zM812 1207h3v3h-3zM820 1204h3v3h-3zM829 1204h3v3h-3zM838 1201h3v3h-3zM847 1201h3v3h-3zM856 1201h3v3h-3zM858 1198h3v3h-3zM864 1198h3v3h-3zM882 1195h3v3h-3zM891 1195h3v3h-3zM900 1193h3v3h-3zM908 1193h3v3h-3zM917 1193h3v3h-3zM926 1190h3v3h-3zM935 1190h3v3h-3zM938 1190h3v3h-3zM943 1187h3v3h-3zM961 1184h3v3h-3zM970 1184h3v3h-3zM979 1184h3v3h-3zM987 1181h3v3h-3zM996 1181h3v3h-3zM1005 1178h3v3h-3zM1014 1178h3v3h-3zM1017 1178h3v3h-3zM1023 1175h3v3h-3zM1040 1175h3v3h-3zM1049 1172h3v3h-3zM1058 1172h3v3h-3zM1067 1169h3v3h-3zM1075 1169h3v3h-3zM1081 1169h3v3h-3zM1090 1169h3v3h-3zM1093 1169h3v3h-3zM1099 1172h3v3h-3zM1116 1172h3v3h-3zM1125 1172h3v3h-3zM1134 1175h3v3h-3zM1143 1175h3v3h-3zM1154 1175h3v3h-3zM1163 1178h3v3h-3zM1172 1178h3v3h-3zM1175 1178h3v3h-3zM1181 1178h3v3h-3zM1198 1181h3v3h-3zM1207 1181h3v3h-3zM1216 1184h3v3h-3zM1225 1184h3v3h-3zM1234 1184h3v3h-3zM1242 1187h3v3h-3zM1251 1187h3v3h-3zM1254 1187h3v3h-3zM1260 1187h3v3h-3zM1277 1190h3v3h-3zM1286 1190h3v3h-3zM1295 1193h3v3h-3zM1304 1193h3v3h-3zM1313 1193h3v3h-3zM1321 1195h3v3h-3zM1330 1195h3v3h-3zM1333 1195h3v3h-3zM1339 1195h3v3h-3zM1357 1198h3v3h-3zM1365 1198h3v3h-3zM1374 1201h3v3h-3zM1383 1201h3v3h-3zM1392 1201h3v3h-3zM1401 1204h3v3h-3zM1409 1204h3v3h-3zM1412 1204h3v3h-3zM1418 1204h3v3h-3zM1436 1207h3v3h-3zM1444 1207h3v3h-3zM1453 1207h3v3h-3zM1462 1210h3v3h-3zM1471 1210h3v3h-3zM1480 1210h3v3h-3zM1488 1213h3v3h-3zM1491 1213h3v3h-3zM1497 1213h3v3h-3zM1512 1213h3v3h-3zM1521 1213h3v3h-3zM1529 1213h3v3h-3zM1538 1213h3v3h-3zM1547 1210h3v3h-3zM1556 1210h3v3h-3zM1565 1210h3v3h-3zM1568 1210h3v3h-3zM1573 1210h3v3h-3zM1591 1210h3v3h-3zM1600 1210h3v3h-3zM1609 1210h3v3h-3zM1617 1207h3v3h-3zM1626 1207h3v3h-3zM1635 1207h3v3h-3zM1644 1207h3v3h-3zM1647 1207h3v3h-3zM1653 1207h3v3h-3zM1670 1207h3v3h-3zM1679 1207h3v3h-3zM1688 1204h3v3h-3zM1696 1204h3v3h-3zM1705 1204h3v3h-3zM1714 1204h3v3h-3zM1723 1204h3v3h-3zM1726 1204h3v3h-3zM1732 1204h3v3h-3zM1749 1204h3v3h-3zM1758 1201h3v3h-3zM1767 1201h3v3h-3zM1776 1201h3v3h-3zM1784 1201h3v3h-3zM1793 1201h3v3h-3zM1802 1201h3v3h-3zM1805 1201h3v3h-3zM1811 1201h3v3h-3zM1828 1198h3v3h-3zM1837 1198h3v3h-3zM1846 1198h3v3h-3zM1855 1198h3v3h-3zM1863 1198h3v3h-3zM1872 1198h3v3h-3zM1881 1198h3v3h-3zM1884 1198h3v3h-3zM1890 1195h3v3h-3zM1907 1195h3v3h-3zM1916 1195h3v3h-3z"/>
<path d="M261 1354h3v3h-3zM270 1354h3v3h-3zM278 1354h3v3h-3zM287 1351h3v3h-3zM296 1351h3v3h-3zM299 1351h3v3h-3zM305 1348h3v3h-3zM322 1348h3v3h-3zM331 1345h3v3h-3zM340 1345h3v3h-3zM349 1342h3v3h-3zM357 1342h3v3h-3zM366 1342h3v3h-3zM375 1339h3v3h-3zM378 1339h3v3h-3zM384 1339h3v3h-3zM401 1336h3v3h-3zM410 1336h3v3h-3zM419 1333h3v3h-3zM425 1333h3v3h-3zM434 1330h3v3h-3zM442 1330h3v3h-3zM451 1327h3v3h-3zM454 1327h3v3h-3zM460 1327h3v3h-3zM478 1324h3v3h-3zM486 1324h3v3h-3zM495 1321h3v3h-3zM504 1321h3v3h-3zM513 1321h3v3h-3zM522 1318h3v3h-3zM530 1318h3v3h-3zM533 1318h3v3h-3zM539 1316h3v3h-3zM557 1316h3v3h-3zM565 1313h3v3h-3zM574 1313h3v3h-3zM583 1310h3v3h-3zM592 1310h3v3h-3zM601 1307h3v3h-3zM609 1307h3v3h-3zM612 1307h3v3h-3zM618 1307h3v3h-3zM636 1304h3v3h-3zM645 1301h3v3h-3zM653 1301h3v3h-3zM659 1301h3v3h-3zM668 1298h3v3h-3zM677 1298h3v3h-3zM686 1298h3v3h-3zM689 1295h3v3h-3zM694 1295h3v3h-3zM712 1292h3v3h-3zM721 1292h3v3h-3zM730 1292h3v3h-3zM738 1289h3v3h-3zM747 1289h3v3h-3zM756 1286h3v3h-3zM765 1286h3v3h-3zM768 1286h3v3h-3zM774 1286h3v3h-3zM791 1283h3v3h-3zM800 1283h3v3h-3zM809 1280h3v3h-3zM817 1280h3v3h-3zM826 1277h3v3h-3zM835 1277h3v3h-3zM844 1277h3v3h-3zM847 1275h3v3h-3zM853 1275h3v3h-3zM870 1272h3v3h-3zM879 1272h3v3h-3zM888 1272h3v3h-3zM897 1269h3v3h-3zM905 1269h3v3h-3zM914 1269h3v3h-3zM923 1266h3v3h-3zM926 1266h3v3h-3zM932 1266h3v3h-3zM949 1263h3v3h-3zM958 1263h3v3h-3zM967 1260h3v3h-3zM976 1260h3v3h-3zM984 1257h3v3h-3zM993 1257h3v3h-3zM1002 1257h3v3h-3zM1005 1254h3v3h-3zM1011 1254h3v3h-3zM1028 1251h3v3h-3zM1037 1251h3v3h-3zM1046 1251h3v3h-3zM1055 1248h3v3h-3zM1064 1248h3v3h-3zM1072 1248h3v3h-3zM1078 1245h3v3h-3zM1081 1245h3v3h-3zM1087 1245h3v3h-3zM1105 1248h3v3h-3zM1113 1248h3v3h-3zM1122 1248h3v3h-3zM1131 1248h3v3h-3zM1140 1248h3v3h-3zM1149 1251h3v3h-3zM1157 1251h3v3h-3zM1160 1251h3v3h-3zM1166 1251h3v3h-3zM1184 1251h3v3h-3zM1193 1251h3v3h-3zM1201 1251h3v3h-3zM1210 1254h3v3h-3zM1219 1254h3v3h-3zM1228 1254h3v3h-3zM1236 1254h3v3h-3zM1239 1254h3v3h-3zM1245 1254h3v3h-3zM1263 1257h3v3h-3zM1272 1257h3v3h-3zM1280 1257h3v3h-3zM1289 1257h3v3h-3zM1298 1257h3v3h-3zM1307 1257h3v3h-3zM1316 1260h3v3h-3zM1318 1260h3v3h-3zM1324 1260h3v3h-3zM1342 1260h3v3h-3zM1351 1260h3v3h-3zM1360 1260h3v3h-3zM1368 1260h3v3h-3zM1377 1263h3v3h-3zM1386 1263h3v3h-3zM1395 1263h3v3h-3zM1398 1263h3v3h-3zM1403 1263h3v3h-3zM1421 1263h3v3h-3zM1430 1266h3v3h-3zM1439 1266h3v3h-3zM1447 1266h3v3h-3zM1456 1266h3v3h-3zM1465 1266h3v3h-3zM1474 1266h3v3h-3zM1477 1266h3v3h-3zM1483 1269h3v3h-3zM1500 1269h3v3h-3zM1509 1269h3v3h-3zM1518 1269h3v3h-3zM1527 1269h3v3h-3zM1535 1269h3v3h-3zM1544 1272h3v3h-3zM1553 1272h3v3h-3zM1556 1272h3v3h-3zM1562 1272h3v3h-3zM1579 1272h3v3h-3zM1588 1272h3v3h-3zM1597 1275h3v3h-3zM1606 1275h3v3h-3zM1614 1275h3v3h-3zM1623 1275h3v3h-3zM1632 1275h3v3h-3zM1635 1275h3v3h-3zM1641 1275h3v3h-3zM1658 1277h3v3h-3zM1667 1277h3v3h-3zM1676 1277h3v3h-3zM1685 1277h3v3h-3zM1694 1277h3v3h-3zM1702 1280h3v3h-3zM1711 1280h3v3h-3zM1714 1280h3v3h-3zM1720 1280h3v3h-3zM1737 1280h3v3h-3zM1746 1280h3v3h-3zM1755 1280h3v3h-3zM1764 1283h3v3h-3zM1773 1283h3v3h-3zM1781 1283h3v3h-3zM1790 1283h3v3h-3zM1793 1283h3v3h-3zM1799 1283h3v3h-3zM1817 1286h3v3h-3zM1825 1286h3v3h-3zM1834 1286h3v3h-3zM1843 1286h3v3h-3zM1852 1286h3v3h-3zM1861 1286h3v3h-3zM1869 1289h3v3h-3zM1872 1289h3v3h-3zM1878 1289h3v3h-3zM1896 1289h3v3h-3zM1904 1289h3v3h-3zM1913 1289h3v3h-3zM1922 1289h3v3h-3z"/>
</g>
<g id="err" fill="#000" shape-rendering="crispEdges">
<rect x="395.00" y="1270.00" width="3.00" height="50.00" />
<rect x="383.00" y="1268.00" width="24.00" height="3.00" />
<rect x="383.00" y="1319.00" width="24.00" height="3.00" />
<rect x="445.00" y="1130.00" width="3.00" height="165.00" />
<rect x="433.00" y="1129.00" width="24.00" height="3.00" />
<rect x="433.00" y="1242.00" width="24.00" height="3.00" />
<rect x="433.00" y="1283.00" width="24.00" height="3.00" />
<rect x="656.00" y="970.00" width="3.00" height="297.00" />
<rect x="653.00" y="1288.00" width="6.00" height="29.00" />
<rect x="644.00" y="968.00" width="24.00" height="3.00" />
<rect x="644.00" y="1120.00" width="24.00" height="3.00" />
<rect x="644.00" y="1132.00" width="24.00" height="3.00" />
<rect x="644.00" y="1140.00" width="24.00" height="3.00" />
<rect x="644.00" y="1152.00" width="24.00" height="3.00" />
<rect x="644.00" y="1200.00" width="24.00" height="3.00" />
<rect x="644.00" y="1212.00" width="24.00" height="3.00" />
<rect x="644.00" y="1286.00" width="24.00" height="3.00" />
<rect x="644.00" y="1316.00" width="24.00" height="3.00" />
<rect x="644.00" y="1265.00" width="27.00" height="3.00" />
<rect x="1078.00" y="670.00" width="3.00" height="187.00" />
<rect x="1078.00" y="880.00" width="3.00" height="367.00" />
<rect x="1066.00" y="668.00" width="27.00" height="3.00" />
<rect x="1066.00" y="855.00" width="27.00" height="3.00" />
<rect x="1066.00" y="879.00" width="27.00" height="3.00" />
<rect x="1066.00" y="974.00" width="27.00" height="3.00" />
<rect x="1066.00" y="995.00" width="27.00" height="3.00" />
<rect x="1066.00" y="1093.00" width="24.00" height="3.00" />
<rect x="1066.00" y="1099.00" width="24.00" height="3.00" />
<rect x="1488.00" y="1197.00" width="26.00" height="3.00" />
<rect x="1488.00" y="1224.00" width="26.00" height="3.00" />
<rect x="1921.00" y="545.00" width="3.00" height="341.00" />
<rect x="1921.00" y="1044.00" width="3.00" height="71.00" />
<rect x="1921.00" y="1162.00" width="3.00" height="66.00" />
<rect x="1921.00" y="1278.00" width="3.00" height="30.00" />
<rect x="1909.00" y="543.00" width="27.00" height="3.00" />
<rect x="1909.00" y="885.00" width="27.00" height="3.00" />
<rect x="1909.00" y="1042.00" width="27.00" height="3.00" />
<rect x="1909.00" y="1114.00" width="27.00" height="3.00" />
<rect x="1909.00" y="1161.00" width="27.00" height="3.00" />
<rect x="1909.00" y="1226.00" width="27.00" height="3.00" />
<rect x="1909.00" y="1307.00" width="27.00" height="3.00" />
<rect x="1909.00" y="626.00" width="24.00" height="3.00" />
<rect x="1909.00" y="731.00" width="24.00" height="3.00" />
<rect x="1909.00" y="1276.00" width="24.00" height="3.00" />
<rect x="1909.00" y="648.00" width="27.00" height="3.00" />
<rect x="1909.00" y="665.00" width="27.00" height="3.00" />
</g>
<g id="markers" fill="#000">
<polygon points="237.5,1345.0 243.5,1345.0 243.5,1348.0 255.0,1351.0 255.0,1357.3 237.5,1357.3" />
<polygon points="258.0,1351.0 264.0,1351.0 264.0,1357.3 258.0,1357.3" />
<polygon points="270.0,1351.0 273.0,1351.0 276.0,1357.3 270.0,1357.3" />
<polygon points="386.2,1280.2 386.2,1309.8 387.7,1309.8 413.0,1296.5 413.0,1293.5 387.7,1280.2" />
<polygon points="436.7,1209.0 448.2,1206.0 451.0,1212.0 460.0,1218.0 460.0,1224.0 448.2,1232.2 436.7,1232.2" />
<polygon points="430.6,1277.0 460.2,1277.0 460.2,1275.5 446.9,1253.5 443.9,1253.5 430.6,1275.5" />
<rect x="433.20" y="1292.20" width="27.00" height="35.30" />
<rect x="430.60" y="1292.20" width="29.60" height="5.30" />
<polygon points="654.6,1039.3 657.6,1039.3 671.0,1051.2 671.0,1054.2 657.6,1066.2 654.6,1066.2 641.2,1054.2 641.2,1051.2" />
<polygon points="668.0,1087.0 668.0,1116.3 666.5,1116.3 641.2,1103.2 641.2,1100.2 666.5,1087.0" />
<rect x="647.00" y="1154.00" width="12.00" height="4.00" />
<rect x="647.00" y="1158.00" width="18.00" height="3.00" />
<rect x="647.00" y="1161.00" width="21.00" height="3.00" />
<rect x="647.00" y="1164.00" width="27.00" height="6.00" />
<rect x="647.00" y="1170.00" width="21.00" height="3.00" />
<rect x="644.00" y="1173.00" width="27.00" height="3.00" />
<rect x="641.00" y="1176.00" width="30.00" height="6.00" />
<rect x="644.00" y="1182.00" width="24.00" height="3.00" />
<rect x="647.30" y="1212.00" width="23.70" height="26.60" />
<ellipse cx="656.0" cy="1302.3" rx="11.9" ry="11.9"/>
<polygon points="1076.5,748.5 1079.5,748.5 1092.8,761.8 1092.8,764.8 1079.5,778.1 1076.5,778.1 1063.2,764.8 1063.2,761.8" />
<polygon points="1069.1,914.5 1069.1,944.0 1070.6,944.0 1095.7,930.8 1095.7,927.8 1070.6,914.5" />
<polygon points="1089.8,1021.9 1089.8,1050.9 1088.3,1050.9 1063.2,1037.9 1063.2,1034.9 1088.3,1021.9" />
<polygon points="1063.2,1078.1 1092.8,1078.1 1092.8,1079.6 1079.5,1101.6 1076.5,1101.6 1063.2,1079.6" />
<rect x="1069.10" y="1158.00" width="23.70" height="23.70" />
<ellipse cx="1079.5" cy="1247.5" rx="13.3" ry="11.8"/>
<rect x="1490.50" y="1203.10" width="23.90" height="23.70" />
<polygon points="1932.8,644.9 1932.8,673.8 1931.3,673.8 1906.2,660.8 1906.2,657.8 1931.3,644.9" />
<polygon points="1921.0,676.8 1924.0,676.8 1938.7,687.9 1938.7,690.9 1924.0,702.0 1921.0,702.0 1906.2,690.9 1906.2,687.9" />
<polygon points="1912.1,698.0 1912.1,732.0 1913.6,732.0 1938.7,716.5 1938.7,713.5 1913.6,698.0" />
<polygon points="1909.2,766.2 1938.7,766.2 1938.7,767.7 1925.5,789.8 1922.5,789.8 1909.2,767.7" />
<polygon points="1906.2,1089.6 1938.7,1089.6 1938.7,1088.1 1924.0,1065.9 1921.0,1065.9 1906.2,1088.1" />
<rect x="1912.10" y="1185.20" width="23.70" height="23.30" />
<ellipse cx="1922.5" cy="1291.8" rx="13.3" ry="12.4"/>
</g>
</svg>
</body>
</html>
